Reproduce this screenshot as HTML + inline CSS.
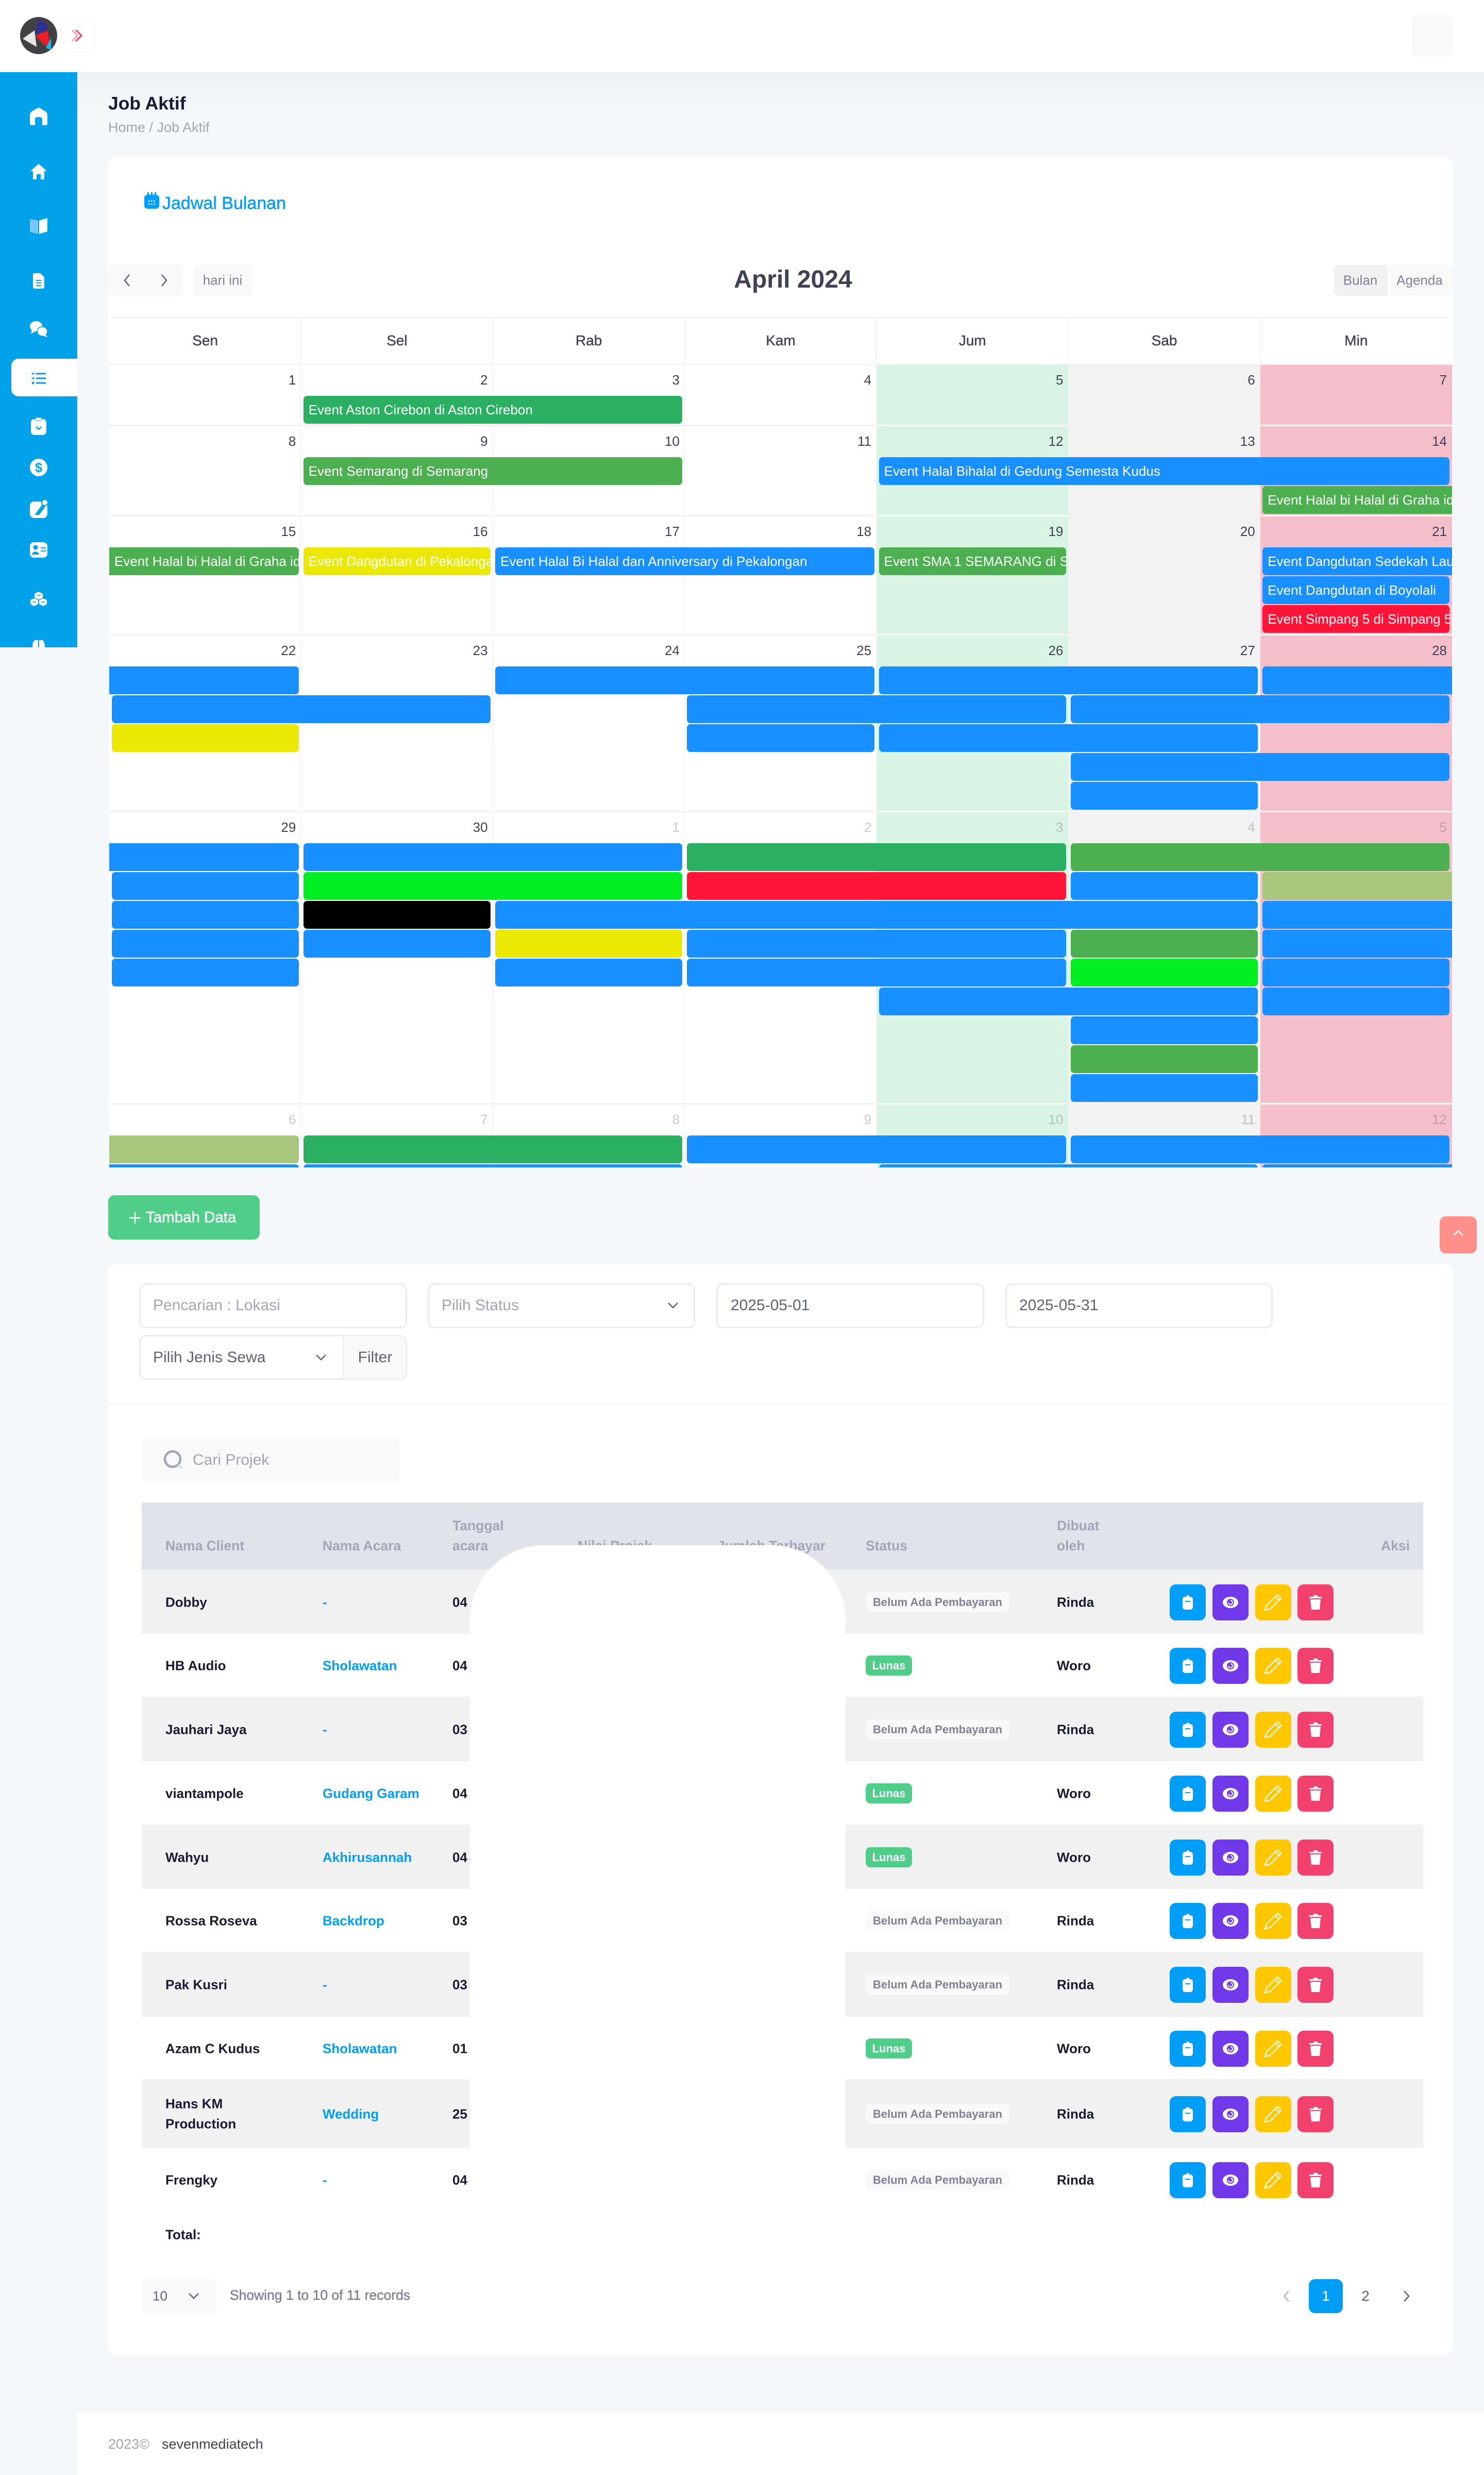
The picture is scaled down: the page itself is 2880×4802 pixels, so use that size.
<!DOCTYPE html>
<html lang="id">
<head>
<meta charset="utf-8">
<title>Job Aktif</title>
<style>
html,body{margin:0;padding:0;width:2880px;height:4802px;overflow:hidden;background:#f5f8fa;font-family:"Liberation Sans",sans-serif;color:#181c32}
#page{position:relative;width:2880px;height:4802px;overflow:hidden}
.a{position:absolute;box-sizing:border-box}
.t{position:absolute;white-space:nowrap;transform:translateY(-50%);line-height:1.2}
.c{transform:translate(-50%,-50%)}
.b{font-weight:700}
.m{-webkit-text-stroke:.5px currentColor}
.input{position:absolute;box-sizing:border-box;background:#fff;border:3px solid #e9ebf1;border-radius:13px}
svg{position:absolute;overflow:visible}
.event{position:absolute;height:54px;color:#fff;font-size:26px;line-height:54px;padding-left:10px;white-space:nowrap;overflow:hidden;border-radius:7px;box-sizing:border-box}
.num{position:absolute;font-size:26px;line-height:30px;color:#3f4254}
.num.out{color:rgba(63,66,84,.28)}
.dow{position:absolute;font-size:28px;line-height:34px;color:#3f4254;transform:translateX(-50%);top:29px;-webkit-text-stroke:.4px currentColor}
.ab{position:absolute;width:70px;height:70px;border-radius:12px}
.badge{position:absolute;height:39px;border-radius:9px;font-size:22px;line-height:39px;font-weight:700;text-align:center;box-sizing:border-box}
</style>
</head>
<body>
<div id="page">

<div class="a" style="left:150px;top:140px;width:2730px;height:90px;background:linear-gradient(#eef1f3,#f5f8fa)"></div>

<!-- top bar -->
<div class="a" style="left:0;top:0;width:2880px;height:140px;background:#fff"></div>
<svg style="left:39px;top:33px" width="72" height="72" viewBox="0 0 72 72">
  <circle cx="36" cy="36" r="36" fill="#414042"/>
  <polygon points="36,4 52,14 54,26 29,34" fill="#2e3192"/>
  <polygon points="30,36 54,26 58,60 44,52" fill="#ee1c25"/>
  <polygon points="28,26 32,58 5,42" fill="#e8e8e8"/>
  <polygon points="60,40 60,64 50,60" fill="#1cb8e8"/>
</svg>
<div class="a" style="left:121px;top:38px;width:59px;height:61px;background:#fff;border-radius:10px;box-shadow:0 0 12px rgba(0,0,0,.05)"></div>
<svg style="left:139px;top:56px" width="24" height="26" viewBox="0 0 24 26">
  <polyline points="1,2 11,13 1,24" fill="none" stroke="#f8a5b8" stroke-width="3"/>
  <polyline points="8,2 19,13 8,24" fill="none" stroke="#f1416c" stroke-width="3"/>
</svg>
<div class="a" style="left:2740px;top:29px;width:80px;height:81px;background:#f9f9f9;border-radius:12px"></div>

<!-- sidebar -->
<div class="a" style="left:0;top:140px;width:150px;height:1116px;background:#02a2ea;overflow:hidden">
  <div class="a" style="left:22px;top:556px;width:128px;height:73px;background:#fff;border-radius:14px 0 0 14px"></div>
  <svg style="left:58px;top:69px" width="34" height="34" viewBox="0 0 34 34"><path d="M0 14 Q0 10 4 7 L14 1 Q17 -1 20 1 L30 7 Q34 10 34 14 V30 Q34 34 30 34 H24 V22 Q24 18 17 18 Q10 18 10 22 V34 H4 Q0 34 0 30Z" fill="#fff"/></svg>
  <svg style="left:59px;top:178px" width="32" height="30" viewBox="0 0 32 30"><path d="M16 0 L32 14 H27 V30 H20 V20 H12 V30 H5 V14 H0Z" fill="#fff"/></svg>
  <svg style="left:58px;top:283px" width="34" height="31" viewBox="0 0 34 31"><path d="M0 2 L16 5 V31 L0 27Z" fill="#7cc8f3"/><path d="M18 5 L34 0 V26 L18 31Z" fill="#fff"/></svg>
  <svg style="left:64px;top:390px" width="22" height="30" viewBox="0 0 22 30"><path d="M3 0 H14 L22 8 V26 Q22 30 18 30 H4 Q0 30 0 26 V3 Q0 0 3 0Z" fill="#fff"/><path d="M6 14 H16 M6 19 H16 M6 24 H16" stroke="#02a2ea" stroke-width="2"/></svg>
  <svg style="left:58px;top:484px" width="34" height="30" viewBox="0 0 34 30"><ellipse cx="12" cy="9" rx="12" ry="10" fill="#fff"/><path d="M4 14 L2 24 L12 18Z" fill="#fff"/><ellipse cx="24" cy="19" rx="10" ry="9" fill="#fff" stroke="#02a2ea" stroke-width="1.5"/><path d="M30 24 L34 30 L24 27Z" fill="#fff"/></svg>
  <svg style="left:61px;top:582px" width="28" height="24" viewBox="0 0 28 24"><path d="M9 3 H28 M9 12 H28 M9 21 H28" stroke="#1090e8" stroke-width="3"/><path d="M1 2 L3 4 L6 1 M1 11 L3 13 L6 10" stroke="#1090e8" stroke-width="2" fill="none"/><circle cx="3" cy="21" r="2.5" fill="#1090e8"/></svg>
  <svg style="left:60px;top:670px" width="30" height="34" viewBox="0 0 30 34"><rect y="3" width="30" height="31" rx="7" fill="#fff"/><rect x="9" y="0" width="12" height="6" rx="2" fill="#fff" stroke="#02a2ea"/><polyline points="10,18 15,23 20,18" fill="none" stroke="#02a2ea" stroke-width="2.5"/></svg>
  <svg style="left:58px;top:750px" width="34" height="34" viewBox="0 0 34 34"><circle cx="17" cy="17" r="17" fill="#fff"/><text x="17" y="26" font-size="26" font-weight="700" text-anchor="middle" fill="#02a2ea" font-family="Liberation Sans, sans-serif">$</text></svg>
  <svg style="left:58px;top:829px" width="34" height="36" viewBox="0 0 34 36"><rect y="4" width="34" height="32" rx="8" fill="#fff"/><path d="M12 26 L24 10 L30 14 L18 30 L10 30Z" fill="#02a2ea"/><circle cx="29" cy="6" r="6" fill="#fff" stroke="#02a2ea" stroke-width="2"/></svg>
  <svg style="left:58px;top:912px" width="34" height="30" viewBox="0 0 34 30"><rect width="34" height="30" rx="8" fill="#fff"/><circle cx="11" cy="10" r="4.5" fill="#02a2ea"/><path d="M3 24 Q11 12 19 24Z" fill="#02a2ea"/><path d="M21 11 H31 M21 17 H31" stroke="#02a2ea" stroke-width="2"/></svg>
  <svg style="left:59px;top:1008px" width="32" height="28" viewBox="0 0 32 28"><path d="M16 0 L24 4 V12 L16 15 L8 12 V4Z" fill="#fff"/><path d="M7 13 L15 16 V24 L7 28 L0 24 V16Z" fill="#fff"/><path d="M25 13 L32 16 V24 L25 28 L17 24 V16Z" fill="#fff"/><path d="M4 20 H11 M21 20 H28 M12 7 H20" stroke="#02a2ea" stroke-width="1.5"/></svg>
  <svg style="left:63px;top:1100px" width="24" height="20" viewBox="0 0 24 20"><path d="M0 16 Q0 2 6 2 H11 V20 H0Z M13 2 H18 Q24 2 24 16 V20 H13Z" fill="#fff"/></svg>
</div>

<!-- page title -->
<div class="t b" style="left:210px;top:201px;font-size:35.5px;color:#181c32">Job Aktif</div>
<div class="t" style="left:210px;top:247px;font-size:27px;color:#a1a5b7">Home / Job Aktif</div>

<!-- calendar card -->
<div class="a" style="left:210px;top:304px;width:2610px;height:400px;background:#fff;border-radius:18px 18px 0 0"></div>
<svg style="left:280px;top:373px" width="29" height="32" viewBox="0 0 29 32"><rect y="5" width="29" height="27" rx="6" fill="#009ef7"/><rect x="6" y="0" width="3" height="7" fill="#009ef7"/><rect x="13" y="0" width="3" height="7" fill="#009ef7"/><rect x="20" y="0" width="3" height="7" fill="#009ef7"/><path d="M8 17 H21 M8 23 H21" stroke="#fff" stroke-width="2.5" stroke-dasharray="2.5 2.5"/></svg>
<div class="t m" style="left:315px;top:395px;font-size:34px;color:#009ef7">Jadwal Bulanan</div>

<div class="a" style="left:210px;top:512px;width:145px;height:63px;background:#f9f9f9;border-radius:10px"></div>
<svg style="left:240px;top:532px" width="12" height="24" viewBox="0 0 12 24"><polyline points="11,1 2,12 11,23" fill="none" stroke="#5e6278" stroke-width="2.5"/></svg>
<svg style="left:313px;top:532px" width="12" height="24" viewBox="0 0 12 24"><polyline points="1,1 10,12 1,23" fill="none" stroke="#5e6278" stroke-width="2.5"/></svg>
<div class="a" style="left:375px;top:514px;width:114px;height:60px;background:#f9f9f9;border-radius:10px"></div>
<div class="t c" style="left:432px;top:544px;font-size:26px;color:#7e8299">hari ini</div>
<div class="t b c" style="left:1539px;top:543px;font-size:48px;color:#3f4254">April 2024</div>
<div class="a" style="left:2589px;top:514px;width:103px;height:60px;background:#f1f1f2;border-radius:10px 0 0 10px"></div>
<div class="a" style="left:2692px;top:514px;width:128px;height:60px;background:#f9f9f9;border-radius:0 10px 10px 0"></div>
<div class="t c" style="left:2640px;top:544px;font-size:26px;color:#7e8299">Bulan</div>
<div class="t c" style="left:2755px;top:544px;font-size:26px;color:#7e8299">Agenda</div>

<div class="a" id="grid" style="left:212px;top:615px;width:2606px;height:1650px;background:#fff;overflow:hidden;border-radius:10px 10px 0 0"></div>

<!-- add button -->
<div class="a" style="left:210px;top:2319px;width:294px;height:86px;background:#50cd89;border-radius:12px"></div>
<svg style="left:251px;top:2352px" width="22" height="22" viewBox="0 0 22 22"><path d="M11 0 V22 M0 11 H22" stroke="#fff" stroke-width="2.5"/></svg>
<div class="t m" style="left:283px;top:2362px;font-size:29.5px;color:#fff">Tambah Data</div>

<div class="a" style="left:2794px;top:2360px;width:72px;height:72px;background:#ff8f8a;border-radius:12px"></div>
<svg style="left:2820px;top:2386px" width="20" height="12" viewBox="0 0 20 12"><polyline points="1,11 10,2 19,11" fill="none" stroke="#fff" stroke-width="2.5"/></svg>

<!-- table card -->
<div class="a" style="left:210px;top:2451px;width:2610px;height:2119px;background:#fff;border-radius:18px"></div>

<div class="input" style="left:270px;top:2490px;width:520px;height:87px"></div>
<div class="t" style="left:297px;top:2533px;font-size:30px;color:#a1a5b7">Pencarian : Lokasi</div>
<div class="input" style="left:830px;top:2490px;width:519px;height:87px"></div>
<div class="t" style="left:857px;top:2533px;font-size:30px;color:#a1a5b7">Pilih Status</div>
<svg style="left:1296px;top:2527px" width="20" height="12" viewBox="0 0 20 12"><polyline points="1,1 10,10 19,1" fill="none" stroke="#5e6278" stroke-width="2.5"/></svg>
<div class="input" style="left:1390px;top:2490px;width:520px;height:87px"></div>
<div class="t" style="left:1418px;top:2533px;font-size:30px;color:#5e6278">2025-05-01</div>
<div class="input" style="left:1951px;top:2490px;width:519px;height:87px"></div>
<div class="t" style="left:1978px;top:2533px;font-size:30px;color:#5e6278">2025-05-31</div>

<div class="input" style="left:270px;top:2590px;width:520px;height:87px"></div>
<div class="a" style="left:666px;top:2592px;width:122px;height:83px;background:#f9f9f9;border-left:2px solid #e9ebf1;border-radius:0 11px 11px 0"></div>
<div class="t" style="left:297px;top:2634px;font-size:30px;color:#5e6278">Pilih Jenis Sewa</div>
<svg style="left:613px;top:2628px" width="20" height="12" viewBox="0 0 20 12"><polyline points="1,1 10,10 19,1" fill="none" stroke="#5e6278" stroke-width="2.5"/></svg>
<div class="t c" style="left:728px;top:2634px;font-size:30px;color:#5e6278">Filter</div>

<div class="a" style="left:210px;top:2723px;width:2610px;height:3px;background:#f6f6f7"></div>

<div class="a" style="left:275px;top:2790px;width:500px;height:86px;background:#f9f9f9;border-radius:12px"></div>
<svg style="left:318px;top:2814px" width="38" height="38" viewBox="0 0 38 38"><circle cx="17" cy="17" r="15" fill="none" stroke="#a1a5b7" stroke-width="4.5"/><path d="M28 28 L35 35" stroke="#d8dae2" stroke-width="4"/></svg>
<div class="t" style="left:374px;top:2833px;font-size:30px;color:#a1a5b7">Cari Projek</div>

<!-- table -->
<div class="a" style="left:275px;top:2915px;width:2487px;height:130px;background:#e1e3ea"></div>
<div class="t b" style="left:321px;top:3000px;font-size:26.5px;color:#a1a5b7">Nama Client</div>
<div class="t b" style="left:626px;top:3000px;font-size:26.5px;color:#a1a5b7">Nama Acara</div>
<div class="t b" style="left:878px;top:2961px;font-size:26.5px;color:#a1a5b7">Tanggal</div>
<div class="t b" style="left:878px;top:3000px;font-size:26.5px;color:#a1a5b7">acara</div>
<div class="t b" style="left:1121px;top:3000px;font-size:26.5px;color:#a1a5b7">Nilai Projek</div>
<div class="t b" style="left:1392px;top:3000px;font-size:26.5px;color:#a1a5b7">Jumlah Terbayar</div>
<div class="t b" style="left:1680px;top:3000px;font-size:26.5px;color:#a1a5b7">Status</div>
<div class="t b" style="left:2051px;top:2961px;font-size:26.5px;color:#a1a5b7">Dibuat</div>
<div class="t b" style="left:2051px;top:3000px;font-size:26.5px;color:#a1a5b7">oleh</div>
<div class="t b" style="right:144px;top:3000px;font-size:26.5px;color:#a1a5b7">Aksi</div>

<div class="a" id="rows" style="left:0;top:0;width:2880px;height:0"></div>

<div class="a" style="left:912px;top:2998px;width:729px;height:1300px;background:#fff;border-radius:145px 145px 0 0"></div>

<div class="t b" style="left:321px;top:4336px;font-size:26px;color:#181c32">Total:</div>

<div class="a" style="left:275px;top:4421px;width:145px;height:70px;background:#f9f9f9;border-radius:12px"></div>
<div class="t" style="left:296px;top:4455px;font-size:26px;color:#5e6278">10</div>
<svg style="left:366px;top:4449px" width="20" height="12" viewBox="0 0 20 12"><polyline points="1,1 10,10 19,1" fill="none" stroke="#5e6278" stroke-width="2.5"/></svg>
<div class="t m" style="left:446px;top:4454px;font-size:26.5px;color:#7e8299">Showing 1 to 10 of 11 records</div>

<svg style="left:2490px;top:4444px" width="12" height="22" viewBox="0 0 12 22"><polyline points="11,1 2,11 11,21" fill="none" stroke="#b5b5c3" stroke-width="2.5"/></svg>
<div class="a" style="left:2540px;top:4422px;width:66px;height:66px;background:#009ef7;border-radius:12px"></div>
<div class="t c" style="left:2573px;top:4455px;font-size:28px;color:#fff">1</div>
<div class="t c" style="left:2650px;top:4455px;font-size:28px;color:#5e6278">2</div>
<svg style="left:2724px;top:4444px" width="12" height="22" viewBox="0 0 12 22"><polyline points="1,1 10,11 1,21" fill="none" stroke="#5e6278" stroke-width="2.5"/></svg>

<!-- footer -->
<div class="a" style="left:150px;top:4681px;width:2730px;height:121px;background:#fff"></div>
<div class="t" style="left:210px;top:4742px;font-size:27px;color:#a1a5b7">2023©</div>
<div class="t" style="left:314px;top:4742px;font-size:27px;color:#3f4254">sevenmediatech</div>
</div>

<script>
// Calendar data
const weekDays = ['Sen','Sel','Rab','Kam','Jum','Sab','Min'];
const weekDates = [
  [1,2,3,4,5,6,7],
  [8,9,10,11,12,13,14],
  [15,16,17,18,19,20,21],
  [22,23,24,25,26,27,28],
  [29,30,1,2,3,4,5],
  [6,7,8,9,10,11,12]
];
const palette = {blue:'#1890ff',green:'#4caf50',teal:'#2bb063',yellow:'#ece806',lime:'#00ee22',red:'#ff1538',black:'#000000',olive:'#a8c77c'};
// week, lane, start column, column span, colour, continuation flag, label
const calendarEvents = [
  [0,0,1,2,'teal','','Event Aston Cirebon di Aston Cirebon'],
  [1,0,1,2,'green','','Event Semarang di Semarang'],
  [1,0,4,3,'blue','','Event Halal Bihalal di Gedung Semesta Kudus'],
  [1,1,6,1,'green','R','Event Halal bi Halal di Graha idaman'],
  [2,0,0,1,'green','L','Event Halal bi Halal di Graha idaman'],
  [2,0,1,1,'yellow','','Event Dangdutan di Pekalongan'],
  [2,0,2,2,'blue','','Event Halal Bi Halal dan Anniversary di Pekalongan'],
  [2,0,4,1,'green','','Event SMA 1 SEMARANG di Semarang'],
  [2,0,6,1,'blue','R','Event Dangdutan Sedekah Laut'],
  [2,1,6,1,'blue','','Event Dangdutan di Boyolali'],
  [2,2,6,1,'red','','Event Simpang 5 di Simpang 5'],
  [3,0,0,1,'blue','L',''],[3,0,2,2,'blue','',''],[3,0,4,2,'blue','',''],[3,0,6,1,'blue','R',''],
  [3,1,0,2,'blue','',''],[3,1,3,2,'blue','',''],[3,1,5,2,'blue','',''],
  [3,2,0,1,'yellow','',''],[3,2,3,1,'blue','',''],[3,2,4,2,'blue','',''],
  [3,3,5,2,'blue','',''],
  [3,4,5,1,'blue','',''],
  [4,0,0,1,'blue','L',''],[4,0,1,2,'blue','',''],[4,0,3,2,'teal','',''],[4,0,5,2,'green','',''],
  [4,1,0,1,'blue','',''],[4,1,1,2,'lime','',''],[4,1,3,2,'red','',''],[4,1,5,1,'blue','',''],[4,1,6,1,'olive','R',''],
  [4,2,0,1,'blue','',''],[4,2,1,1,'black','',''],[4,2,2,4,'blue','',''],[4,2,6,1,'blue','R',''],
  [4,3,0,1,'blue','',''],[4,3,1,1,'blue','',''],[4,3,2,1,'yellow','',''],[4,3,3,2,'blue','',''],[4,3,5,1,'green','',''],[4,3,6,1,'blue','R',''],
  [4,4,0,1,'blue','',''],[4,4,2,1,'blue','',''],[4,4,3,2,'blue','',''],[4,4,5,1,'lime','',''],[4,4,6,1,'blue','',''],
  [4,5,4,2,'blue','',''],[4,5,6,1,'blue','',''],
  [4,6,5,1,'blue','',''],
  [4,7,5,1,'green','',''],
  [4,8,5,1,'blue','',''],
  [5,0,0,1,'olive','L',''],[5,0,1,2,'teal','',''],[5,0,3,2,'blue','',''],[5,0,5,2,'blue','',''],
  [5,1,0,1,'blue','L',''],[5,1,1,2,'blue','',''],[5,1,4,2,'blue','',''],[5,1,6,1,'blue','R','']
];

// Table data
const clients = ['Dobby','HB Audio','Jauhari Jaya','viantampole','Wahyu','Rossa Roseva','Pak Kusri','Azam C Kudus','Hans KM|Production','Frengky'];
const acara = ['-','Sholawatan','-','Gudang Garam','Akhirusannah','Backdrop','-','Sholawatan','Wedding','-'];
const tanggal = ['04 Apr 2024','04 Apr 2024','03 Apr 2024','04 Apr 2024','04 Apr 2024','03 Apr 2024','03 Apr 2024','01 Apr 2024','25 Apr 2024','04 Apr 2024'];
const statusBayar = ['Belum Ada Pembayaran','Lunas','Belum Ada Pembayaran','Lunas','Lunas','Belum Ada Pembayaran','Belum Ada Pembayaran','Lunas','Belum Ada Pembayaran','Belum Ada Pembayaran'];
const dibuatOleh = ['Rinda','Woro','Rinda','Woro','Woro','Rinda','Rinda','Woro','Rinda','Rinda'];

// Calendar axis functions
const GRID_X = 212, GRID_Y = 615, HEAD_H = 93, COL_W = 2606 / 7;
const colX = c => c * COL_W;
const laneCount = w => 1 + Math.max(0, ...calendarEvents.filter(e => e[0] === w).map(e => e[1]));
const weekH = w => 60 + 56 * laneCount(w) + 3;
const weekY = w => { let y = HEAD_H; for (let i = 0; i < w; i++) y += weekH(i); return y; };
const laneY = (w, l) => weekY(w) + 60 + 56 * l;
const cellBg = ['#fff','#fff','#fff','#fff','#d9f3e4','#f2f2f2','#f4bfca'];
const grid = document.getElementById('grid');

weekDays.forEach((d, c) => {
  const el = document.createElement('div');
  el.className = 'dow';
  
  
  el.style.left = (colX(c) + COL_W / 2) + 'px';
  el.textContent = d;
  grid.appendChild(el);
});

const headLine = document.createElement('div');
headLine.className = 'a';


headLine.style.cssText = 'left:0;top:0;width:2606px;height:' + (HEAD_H) + 'px;border-top:2px solid #f1f1f3;border-bottom:2px solid #f1f1f3';
grid.appendChild(headLine);

for (let c = 1; c < 7; c++) {
  const v = document.createElement('div');
  v.className = 'a';
  
  
  v.style.cssText = 'left:' + (colX(c) - 1) + 'px;top:0;width:2px;height:' + HEAD_H + 'px;background:#f3f3f5';
  grid.appendChild(v);
}

weekDates.forEach((dates, w) => {
  dates.forEach((d, c) => {
    const cell = document.createElement('div');
    cell.className = 'a';
    
    
    cell.style.left = colX(c) + 'px';
    cell.style.top = weekY(w) + 'px';
    cell.style.width = COL_W + 'px';
    cell.style.height = weekH(w) + 'px';
    cell.style.background = cellBg[c];
    cell.style.borderBottom = '3px solid ' + (c < 4 ? '#f1f1f3' : c === 5 ? '#f2f2f2' : '#f7f7f8');
    if (c < 3) cell.style.borderRight = '2px solid #f5f5f6';
    grid.appendChild(cell);
    const n = document.createElement('div');
    const outside = (w === 4 && c >= 2) || w === 5;
    n.className = 'num' + (outside ? ' out' : '');
    
    
    n.style.right = (2606 - colX(c + 1) + 10) + 'px';
    n.style.top = (weekY(w) + 14) + 'px';
    n.textContent = d;
    grid.appendChild(n);
  });
});

calendarEvents.forEach(e => {
  const [w, lane, start, span, colour, flag, label] = e;
  const el = document.createElement('div');
  el.className = 'event';
  
  
  const left = flag === 'L' ? 0 : colX(start) + 4.5;
  const right = flag === 'R' ? 2606 : colX(start + span) - 4.5;
  el.style.left = left + 'px';
  el.style.top = laneY(w, lane) + 'px';
  el.style.width = (right - left) + 'px';
  el.style.background = palette[colour];
  if (flag === 'L') el.style.borderRadius = '0 7px 7px 0';
  if (flag === 'R') el.style.borderRadius = '7px 0 0 7px';
  el.textContent = label;
  grid.appendChild(el);
});

// Table rows
const rowTops = [3045,3170,3292,3417,3540,3665,3787,3913,4034,4167,4290];
const rowsEl = document.getElementById('rows');
const NAME_STYLE = 'font-size:26px;font-weight:700;color:#181c32';
const iconClip = '<svg style="left:25px;top:21px" width="20" height="28" viewBox="0 0 20 28"><rect y="3" width="20" height="25" rx="5" fill="#fff"/><circle cx="10" cy="3" r="3" fill="#fff"/><path d="M5 12 H15" stroke="#009ef7" stroke-width="2"/></svg>';
const iconEye = '<svg style="left:20px;top:24px" width="30" height="22" viewBox="0 0 30 22"><ellipse cx="15" cy="11" rx="15" ry="11" fill="#fff"/><circle cx="15" cy="11" r="7" fill="#7239ea"/><path d="M15 7 A4 4 0 1 1 11 11" fill="none" stroke="#fff" stroke-width="2"/></svg>';
const iconPen = '<svg style="left:17px;top:18px" width="35" height="34" viewBox="0 0 35 34"><path d="M2 32 L5 23 L26 2 L33 9 L12 30Z" fill="none" stroke="#fff" stroke-width="2.2"/><path d="M22 6 L29 13" stroke="#fff" stroke-width="2.2"/></svg>';
const iconTrash = '<svg style="left:23px;top:21px" width="24" height="28" viewBox="0 0 24 28"><rect y="3" width="24" height="3" fill="#fff"/><rect x="8" y="0" width="8" height="3" fill="#fff"/><path d="M2 8 H22 L20 28 H4Z" fill="#fff"/></svg>';
const actionNames = ['view-invoice','view-detail','edit','delete'];
const actionColors = ['#009ef7','#7239ea','#ffc700','#f1416c'];
const actionIcons = [iconClip, iconEye, iconPen, iconTrash];
const actionX = [2270, 2353, 2436, 2518];

function addText(x, y, text, style) {
  const el = document.createElement('div');
  el.className = 't';
  el.style.cssText = 'left:' + x + 'px;top:' + y + 'px;' + style;
  el.textContent = text;
  rowsEl.appendChild(el);
  return el;
}

clients.forEach((client, i) => {
  const top = rowTops[i], h = rowTops[i + 1] - top, cy = top + h / 2 + 1;
  if (i % 2 === 0) {
    const bg = document.createElement('div');
    bg.className = 'a';
    
    
    bg.style.cssText = 'left:275px;top:' + top + 'px;width:2487px;height:' + h + 'px;background:#f1f1f2';
    rowsEl.appendChild(bg);
  }
  client.split('|').forEach((line, k, all) => {
    const t = addText(321, cy + (k - (all.length - 1) / 2) * 39, line, NAME_STYLE);
    
    
  });
  const a = addText(626, cy, acara[i], 'font-size:26px;font-weight:700;color:#009ef7');
  
  
  const d = addText(878, cy, tanggal[i], NAME_STYLE);
  
  
  const lunas = statusBayar[i] === 'Lunas';
  const b = document.createElement('div');
  b.className = 'badge';
  
  
  b.style.cssText = 'left:1680px;top:' + (cy - 20) + 'px;width:' + (lunas ? 90 : 279) + 'px;background:' + (lunas ? '#50cd89' : '#f9f9f9') + ';color:' + (lunas ? '#fff' : '#7e8299');
  b.textContent = statusBayar[i];
  rowsEl.appendChild(b);
  const o = addText(2051, cy, dibuatOleh[i], NAME_STYLE);
  
  
  actionNames.forEach((nm, k) => {
    const btn = document.createElement('div');
    btn.className = 'ab';
    
    
    btn.style.left = actionX[k] + 'px';
    btn.style.top = (cy - 35) + 'px';
    btn.style.background = actionColors[k];
    btn.innerHTML = actionIcons[k];
    rowsEl.appendChild(btn);
  });
});
</script>
</body>
</html>
